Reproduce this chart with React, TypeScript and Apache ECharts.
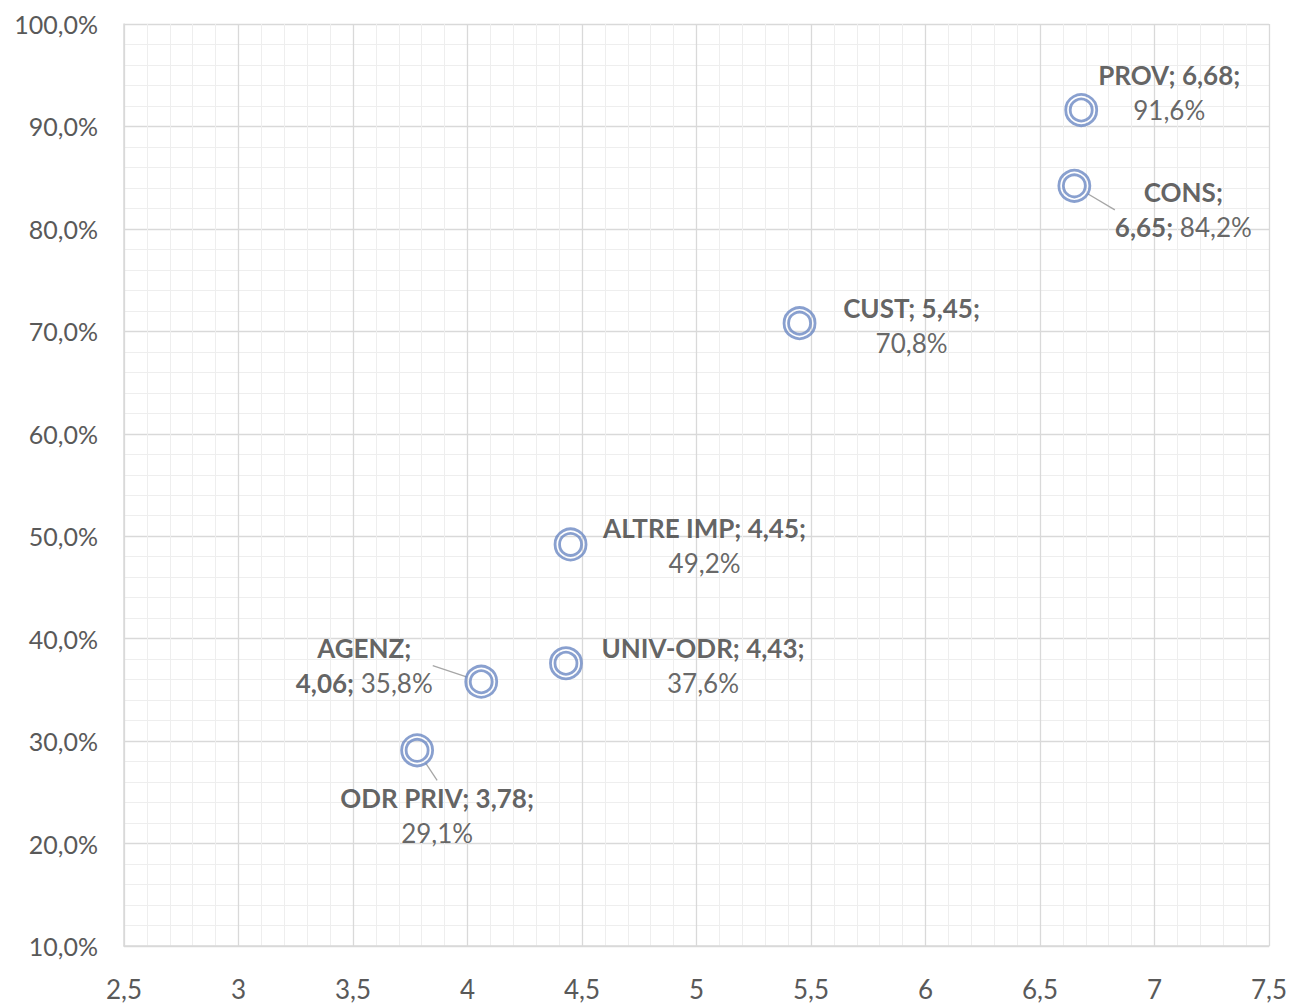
import React, { useEffect, useRef } from "react";
import * as echarts from "echarts";

const names = ["PROV", "CONS", "CUST", "ALTRE IMP", "UNIV-ODR", "AGENZ", "ODR PRIV"];
const xValues = [6.68, 6.65, 5.45, 4.45, 4.43, 4.06, 3.78];
const yValues = [91.6, 84.2, 70.8, 49.2, 37.6, 35.8, 29.1];
const xTicks = [2.5, 3, 3.5, 4, 4.5, 5, 5.5, 6, 6.5, 7, 7.5];
const yTicks = [10, 20, 30, 40, 50, 60, 70, 80, 90, 100];

// label layout (pixel offsets from marker), break after name?, leader line?
const labelOffsets: [number, number][] = [
  [88, -18],
  [109, 24],
  [112, 2],
  [134, 1],
  [137, 2],
  [-117, -16],
  [20, 65],
];
const breakAfterName = [false, true, false, false, false, true, false];
const leader = [false, true, false, false, false, true, true];

const comma = (s: string) => s.replace(".", ",");

export default function App() {
  const ref = useRef<HTMLDivElement>(null);
  useEffect(() => {
    if (!ref.current) return;
    const chart = echarts.init(ref.current, null, { renderer: "svg" });
    const font = "'Lato', 'Noto Sans', sans-serif";
    const ringColor = "#6b88c3";
    const data = names.map((n, i) => {
      const xs = comma(xValues[i].toFixed(2));
      const ys = comma(yValues[i].toFixed(1)) + "%";
      const text = breakAfterName[i]
        ? `{b|${n};}\n{b|${xs};}{n| ${ys}}`
        : `{b|${n}; ${xs};}\n{n|${ys}}`;
      return {
        value: [xValues[i], yValues[i]],
        name: n,
        label: {
          show: true,
          formatter: text,
          offset: labelOffsets[i],
        },
        labelLine: { show: leader[i] },
      };
    });
    const plain = xValues.map((x, i) => [x, yValues[i]]);
    chart.setOption({
      animation: false,
      backgroundColor: "#ffffff",
      grid: { left: 124, right: 25, top: 24, bottom: 58, containLabel: false },
      xAxis: {
        type: "value",
        min: xTicks[0],
        max: xTicks[xTicks.length - 1],
        interval: 0.5,
        axisLine: { show: true, lineStyle: { color: "#d9d9d9", width: 1.5 } },
        axisTick: { show: false },
        axisLabel: {
          color: "#595959",
          fontSize: 26,
          fontFamily: font,
          margin: 30,
          formatter: (v: number) => comma(String(v)),
        },
        splitLine: { show: true, lineStyle: { color: "#d9d9d9", width: 1.3 } },
        minorTick: { show: false, splitNumber: 5 },
        minorSplitLine: { show: true, lineStyle: { color: "#eeeeee", width: 1 } },
      },
      yAxis: {
        type: "value",
        min: yTicks[0],
        max: yTicks[yTicks.length - 1],
        interval: 10,
        axisLine: { show: true, lineStyle: { color: "#d9d9d9", width: 1.5 } },
        axisTick: { show: false },
        axisLabel: {
          color: "#595959",
          fontSize: 25,
          fontFamily: font,
          margin: 26,
          formatter: (v: number) => comma(v.toFixed(1)) + "%",
        },
        splitLine: { show: true, lineStyle: { color: "#d9d9d9", width: 1.3 } },
        minorTick: { show: false, splitNumber: 5 },
        minorSplitLine: { show: true, lineStyle: { color: "#eeeeee", width: 1 } },
      },
      series: [
        {
          type: "scatter",
          data: plain,
          symbol: "circle",
          symbolSize: 22,
          itemStyle: { color: "rgba(255,255,255,0)", borderColor: ringColor, borderWidth: 2.8 },
          silent: true,
          z: 3,
        },
        {
          type: "scatter",
          data,
          symbol: "circle",
          symbolSize: 31,
          itemStyle: { color: "rgba(255,255,255,0)", borderColor: ringColor, borderWidth: 2.8 },
          label: {
            show: true,
            position: "inside",
            align: "center",
            verticalAlign: "middle",
            fontFamily: font,
            lineHeight: 35,
            rich: {
              b: { fontSize: 26, fontWeight: "bold", color: "#3a3a3a", fontFamily: font, lineHeight: 35 },
              n: { fontSize: 26, color: "#404040", fontFamily: font, lineHeight: 35 },
            },
          },
          labelLine: { show: false, lineStyle: { color: "#a6a6a6", width: 1.3 } },
          z: 4,
        },
      ],
    });
    return () => chart.dispose();
  }, []);
  return (
    <div
      ref={ref}
      style={{ position: "absolute", left: 0, top: 0, width: 1294, height: 1004 }}
    />
  );
}
